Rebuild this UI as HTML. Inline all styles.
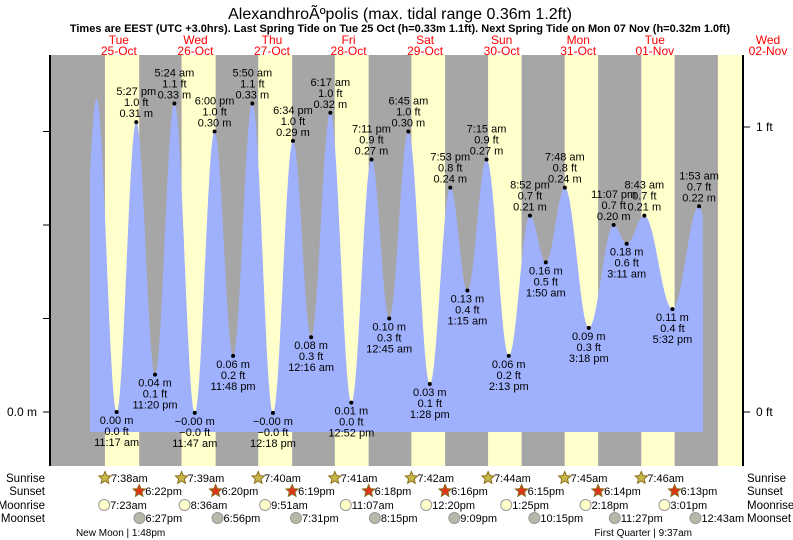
<!DOCTYPE html>
<html><head><meta charset="utf-8"><style>
body{margin:0;background:#fff}
svg{display:block;font-family:"Liberation Sans",Arial,sans-serif}
</style></head><body>
<svg id="chart" width="793" height="540" viewBox="0 0 793 540" xmlns="http://www.w3.org/2000/svg">
<text x="400" y="19" font-size="16" text-anchor="middle">AlexandhroÃºpolis (max. tidal range 0.36m 1.2ft)</text>
<text x="400" y="32" font-size="11" font-weight="bold" text-anchor="middle">Times are EEST (UTC +3.0hrs). Last Spring Tide on Tue 25 Oct (h=0.33m 1.1ft). Next Spring Tide on Mon 07 Nov (h=0.32m 1.0ft)</text>
<g id="bg"></g><g id="tide"></g><g id="axes"></g><g id="labels"></g><g id="days"></g><g id="astro"></g>
</svg>
<script>
const dayNames=["Tue","Wed","Thu","Fri","Sat","Sun","Mon","Tue","Wed"];
const dayDates=["25-Oct","26-Oct","27-Oct","28-Oct","29-Oct","30-Oct","31-Oct","01-Nov","02-Nov"];
// tide extremes: day index, time, height (m), labelled
const tideDays=[-1,0,0,0,0,1,1,1,1,2,2,2,3,3,3,3,4,4,4,4,5,5,5,5,6,6,6,6,7,7,7,8,8];
const tideTimes=["11:00 pm","5:00 am","11:17 am","5:27 pm","11:20 pm","5:24 am","11:47 am","6:00 pm","11:48 pm","5:50 am","12:18 pm","6:34 pm","12:16 am","6:17 am","12:52 pm","7:11 pm","12:45 am","6:45 am","1:28 pm","7:53 pm","1:15 am","7:15 am","2:13 pm","8:52 pm","1:50 am","7:48 am","3:18 pm","11:07 pm","3:11 am","8:43 am","5:32 pm","1:53 am","7:00 am"];
const tideHeights=[0.03,0.335,0.00,0.31,0.04,0.33,-0.001,0.30,0.06,0.33,-0.001,0.29,0.08,0.32,0.01,0.27,0.10,0.30,0.03,0.24,0.13,0.27,0.06,0.21,0.16,0.24,0.09,0.20,0.18,0.21,0.11,0.22,0.12];
const tideLabelled=[0,0,1,1,1,1,1,1,1,1,1,1,1,1,1,1,1,1,1,1,1,1,1,1,1,1,1,1,1,1,1,1,0];
const sunrise=["7:38am","7:39am","7:40am","7:41am","7:42am","7:44am","7:45am","7:46am"];
const sunset=["6:22pm","6:20pm","6:19pm","6:18pm","6:16pm","6:15pm","6:14pm","6:13pm"];
const moonrise=["7:23am","8:36am","9:51am","11:07am","12:20pm","1:25pm","2:18pm","3:01pm"];
const moonset=["6:27pm","6:56pm","7:31pm","8:15pm","9:09pm","10:15pm","11:27pm","12:43am"];
const moonsetDays=[0,1,2,3,4,5,6,8];
const phases=["New Moon | 1:48pm","First Quarter | 9:37am"];
const phaseDays=[0,7];
const phaseTimes=["1:48pm","9:37am"];

const NS="http://www.w3.org/2000/svg";
const X0=80.6,PXH=3.19,Y0=412,PXM=935;
const xT=t=>X0+t*PXH, yH=h=>Y0-h*PXM;
function hrs(s){const m=s.match(/(\d+):(\d+)\s*(am|pm)/);let h=+m[1]%12;if(m[3]=="pm")h+=12;return h+ +m[2]/60;}
function mk(tag,attrs,parent,txt){const e=document.createElementNS(NS,tag);for(const k in attrs)e.setAttribute(k,attrs[k]);if(txt!=null)e.textContent=txt;document.getElementById(parent).appendChild(e);return e;}
const PL=50,PR=743,PT=55,PB=466;
let e=mk("rect",{x:PL,y:PT,width:PR-PL,height:PB-PT,fill:"#a6a6a6"},"bg");

for(let d=0;d<9;d++){
 const a=xT(d*24+hrs(sunrise[Math.min(d,7)])), b=d<8?xT(d*24+hrs(sunset[d])):PR;
 e=mk("rect",{x:a,y:PT,width:Math.min(b,PR)-a,height:PB-PT,fill:"#ffffcc"},"bg");
 
 e=mk("text",{x:d<8?xT(d*24+12):768,y:44,"font-size":12,fill:"#ff0000","text-anchor":"middle"},"days",dayNames[d]);
 
 e=mk("text",{x:d<8?xT(d*24+12):768,y:55,"font-size":12,fill:"#ff0000","text-anchor":"middle"},"days",dayDates[d]);
 
}
const ts=tideTimes.map((s,i)=>tideDays[i]*24+hrs(s));
const tStart=(90-X0)/PXH,tEnd=(703-X0)/PXH;
function hAt(t){for(let i=0;i<ts.length-1;i++){if(t>=ts[i]&&t<=ts[i+1]){const f=(t-ts[i])/(ts[i+1]-ts[i]);return tideHeights[i]+(tideHeights[i+1]-tideHeights[i])*(1-Math.cos(Math.PI*f))/2;}}return 0;}
let p=`M${xT(tStart)},432`;
for(let t=tStart;t<=tEnd;t+=0.1)p+=` L${xT(t).toFixed(1)},${yH(hAt(t)).toFixed(1)}`;
p+=` L${xT(tEnd)},432 Z`;
e=mk("path",{d:p,fill:"#9fb0fd"},"tide");

const fmt=v=>v.replace("-","\u2212");
for(let i=0;i<ts.length;i++){
 if(!tideLabelled[i])continue;
 const x=xT(ts[i]),y=yH(tideHeights[i]);
 const high=(i>0&&tideHeights[i]>tideHeights[i-1]);
 e=mk("circle",{cx:x,cy:y,r:2,fill:"#000"},"labels");
 
 const m=fmt(tideHeights[i].toFixed(2))+" m",ft=fmt((tideHeights[i]/0.3048).toFixed(1))+" ft",tm=tideTimes[i];
 const lines=high?[tm,ft,m]:[m,ft,tm];
 const base=high?y-27:y+12;
 lines.forEach((s,k)=>{e=mk("text",{x:x,y:base+k*11,"font-size":11,"text-anchor":"middle",fill:"#000"},"labels",s);
  });
}
e=mk("line",{x1:PL,y1:PT,x2:PL,y2:PB,stroke:"#000","stroke-width":2},"axes");
e=mk("line",{x1:PR,y1:PT,x2:PR,y2:PB,stroke:"#000","stroke-width":2},"axes");
[0,0.1,0.2,0.3].forEach(v=>{e=mk("line",{x1:43,y1:yH(v),x2:PL,y2:yH(v),stroke:"#000"},"axes");});
e=mk("text",{x:37,y:416,"font-size":12,"text-anchor":"end"},"axes","0.0 m");
[0,1].forEach(v=>{const y=yH(v*0.3048);e=mk("line",{x1:PR,y1:y,x2:PR+7,y2:y,stroke:"#000"},"axes");
 e=mk("text",{x:756,y:y+4,"font-size":12},"axes",v+" ft");});
const rows=[["Sunrise",482],["Sunset",495],["Moonrise",509],["Moonset",522]];
rows.forEach(r=>{e=mk("text",{x:45,y:r[1],"font-size":11.5,"text-anchor":"end"},"astro",r[0]);
 e=mk("text",{x:747,y:r[1],"font-size":11.5},"astro",r[0]);});
function star(cx,cy,fill){let pts=[];for(let k=0;k<10;k++){const r=k%2?3:6.5,a=-Math.PI/2+k*Math.PI/5;pts.push((cx+r*Math.cos(a)).toFixed(1)+","+(cy+r*Math.sin(a)).toFixed(1));}return mk("polygon",{points:pts.join(" "),fill:fill,stroke:"#8a7020","stroke-width":1},"astro");}
function item(x,y,txt,kind){
 if(kind=="sr")e=star(x,y-4,"#c8b84a");else if(kind=="ss")e=star(x,y-4,"#e03418");
 else e=mk("circle",{cx:x,cy:y-4,r:5.5,fill:kind=="mr"?"#ffffcc":"#b8b8a8",stroke:"#999"},"astro");
 
 e=mk("text",{x:x+6,y:y,"font-size":11},"astro",txt);
}
for(let d=0;d<8;d++){
 item(xT(d*24+hrs(sunrise[d])),482,sunrise[d],"sr");
 item(xT(d*24+hrs(sunset[d])),495,sunset[d],"ss");
 item(xT(d*24+hrs(moonrise[d])),509,moonrise[d],"mr");
 item(xT(moonsetDays[d]*24+hrs(moonset[d])),522,moonset[d],"ms");
}
phases.forEach((s,i)=>{e=mk("text",{x:xT(phaseDays[i]*24+hrs(phaseTimes[i]))-4,y:536,"font-size":10,"text-anchor":"middle"},"astro",s);});
</script>
</body></html>
